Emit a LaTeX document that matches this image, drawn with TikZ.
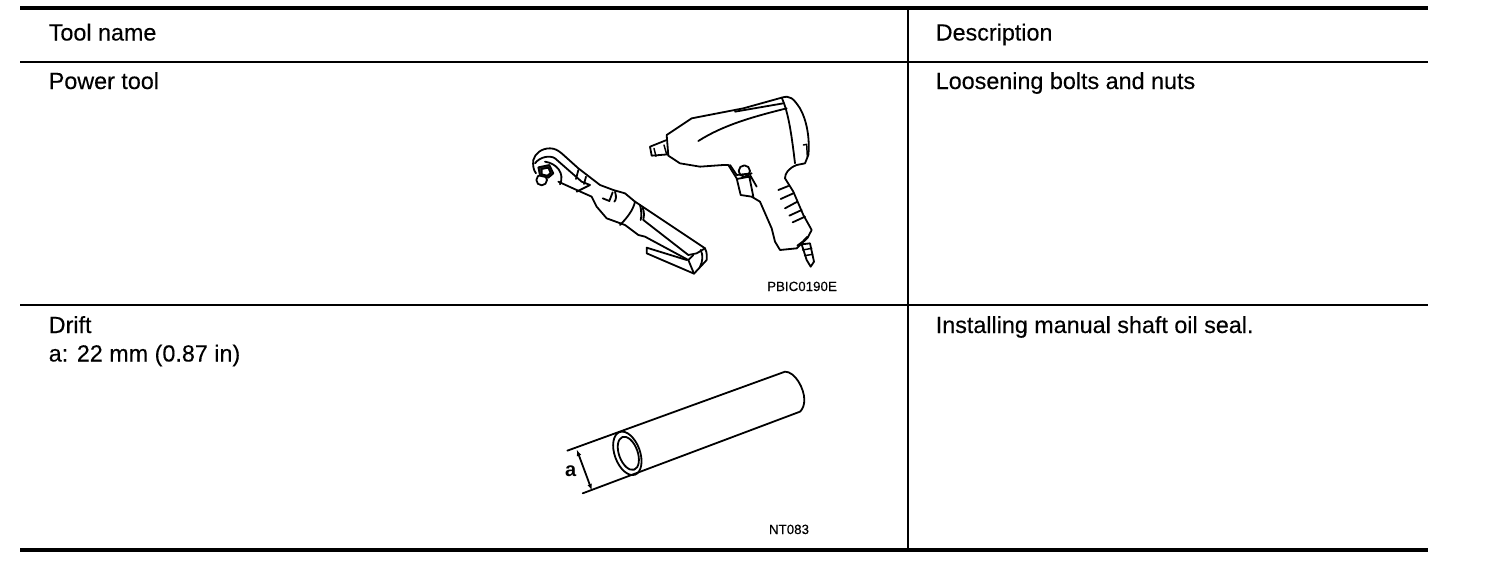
\documentclass[tikz,border=0pt]{standalone}
\usepackage{fontspec}
\setmainfont{Liberation Sans}
\usetikzlibrary{arrows.meta}
\tikzset{
  rulethick/.style={line width=3pt},
  rulethin/.style={line width=1.4pt},
  cell/.style={anchor=base west,inner sep=0pt,font=\fontsize{17.5pt}{21pt}\selectfont\addfontfeature{FakeBold=0.25}},
  code/.style={anchor=base,inner sep=0pt,font=\fontsize{10pt}{11pt}\selectfont\addfontfeature{FakeBold=0.25}},
  art/.style={line width=1.35pt,line join=round,line cap=round},
  artthin/.style={line width=1.1pt,line join=round,line cap=round},
}
\begin{document}
\begin{tikzpicture}[x=.75pt,y=-.75pt]
\useasboundingbox (0,0) rectangle (1504,578);
\fill[white] (0,0) rectangle (1504,578);
% table rules
\draw[rulethick] (20,8) -- (1428,8);
\draw[rulethick] (20,550) -- (1428,550);
\draw[rulethin] (20,62) -- (1428,62);
\draw[rulethin] (20,305) -- (1428,305);
\draw[rulethin] (908,8) -- (908,550);
% text
\node[cell] (h1) at (48.5,40.5) {Tool name};
\node[cell] (h2) at (935.5,40.5) {Description};
\node[cell] (t1) at (48.5,89) {Power tool};
\node[cell] (d1) at (935.5,89) {Loosening bolts and nuts};
\node[cell] (t2) at (48.5,333) {Drift};
\node[cell] (t3) at (48.5,361.5) {a: 22 mm (0.87 in)};
\node[cell] (d2) at (935.5,333) {Installing manual shaft oil seal.};
\node[code] (c1) at (802,291) {PBIC0190E};
\node[code] (c2) at (789,534) {NT083};
% power tools, zoomed coordinates
\begin{scope}[shift={(510,85)},x=.25pt,y=-.25pt]
% impact gun
\draw[art] (470,150) -- (545,100) -- (700,70) -- (815,38) .. controls (840,30) and (850,40) .. (870,70)
  .. controls (890,105) and (900,160) .. (895,210) -- (885,235) -- (860,240) .. controls (835,250) and (825,265) .. (825,280)
  -- (850,320) -- (880,390) -- (905,435) -- (893,458) -- (860,490) -- (810,495) -- (795,470) -- (785,430) -- (750,350) -- (725,335)
  -- (692,330) -- (680,280) -- (655,240) -- (640,240) -- (570,245) -- (510,235) -- (475,212) -- cycle;
\draw[art] (470,165) -- (420,185) -- (425,212) -- (475,208);
\draw[artthin] (432,190) -- (438,214) (462,180) -- (470,208);
\draw[art] (565,168) .. controls (640,120) and (730,95) .. (830,70);
\draw[art] (675,80) -- (820,55);
\draw[art] (815,38) .. controls (835,80) and (845,150) .. (855,235);
\draw[artthin] (880,180) -- (890,178) -- (892,215);
\draw[art] (703,258) circle[radius=17];
\draw[art] (660,240) -- (680,270) -- (725,265) (680,282) -- (718,275) -- (730,335) (720,270) -- (740,305);
\draw[art] (805,315) -- (835,303) (812,342) -- (850,325) (825,370) -- (862,350) (838,392) -- (875,375) (848,412) -- (885,395);
\draw[art] (862,482) -- (878,470) -- (892,455);
\draw[art] (875,478) -- (900,475) -- (912,530) -- (902,545) -- (890,525) -- cycle;
\draw[artthin] (878,495) -- (905,490) (884,512) -- (908,508);
% ratchet
\draw[art] (70,225) .. controls (75,205) and (95,190) .. (120,190) .. controls (135,190) and (145,197) .. (155,205)
  -- (205,250) -- (270,300) -- (310,315) -- (345,325) -- (375,350) -- (585,490)
  .. controls (593,505) and (590,522) .. (590,525) -- (552,566) -- (410,505) -- (410,488) -- (530,525);
\draw[art] (70,225) .. controls (68,240) and (70,255) .. (78,265);
\draw[art] (95,285) circle[radius=16];
\draw[art,fill=black!85] (85,247) -- (118,240) -- (130,265) -- (115,278) -- (90,272) -- cycle;
\draw[art,fill=white] (95,252) -- (115,248) -- (122,264) -- (112,272) -- (95,268) -- cycle;
\draw[art] (75,235) .. controls (90,215) and (120,210) .. (135,220) -- (175,255) -- (215,290) -- (240,300) -- (200,320);
\draw[art] (105,230) .. controls (140,235) and (165,265) .. (150,298);
\draw[art] (145,290) -- (200,315) -- (245,335) -- (260,365) -- (290,400) -- (345,420) -- (385,450) -- (405,455) -- (535,525);
\draw[art] (205,255) -- (198,282) (228,275) -- (222,297);
\draw[art] (278,340) -- (298,348) -- (308,322) (315,320) .. controls (320,335) and (318,345) .. (313,350);
\draw[art] (375,350) .. controls (370,375) and (350,400) .. (330,420);
\draw[art] (390,360) .. controls (396,385) and (394,395) .. (392,405) (398,368) .. controls (404,385) and (402,395) .. (400,405);
\draw[art] (400,405) -- (535,510) -- (560,505) -- (585,490);
\draw[art] (535,525) -- (550,510) (535,525) -- (552,566);
\draw[art] (572,495) .. controls (580,510) and (578,530) .. (570,545);
\end{scope}
% drift, zoomed coordinates
\begin{scope}[shift={(540,360)},x=.25pt,y=-.25pt]
\draw[art] (82,272) -- (735,35) .. controls (765,35) and (793,85) .. (793,120) .. controls (793,135) and (788,148) .. (780,155) -- (128,400);
\draw[art,rotate around={20:(262,280)}] (262,280) ellipse[x radius=38,y radius=68];
\draw[art,rotate around={20:(265,280)}] (265,280) ellipse[x radius=28,y radius=52];
\draw[{Latex[length=5pt,width=3.5pt]}-{Latex[length=5pt,width=3.5pt]},art] (110,268) -- (156,392);
\node[anchor=base,inner sep=0pt,font=\fontsize{15pt}{18pt}\selectfont\bfseries] (a) at (92,349) {a};
\end{scope}
\end{tikzpicture}
\end{document}
